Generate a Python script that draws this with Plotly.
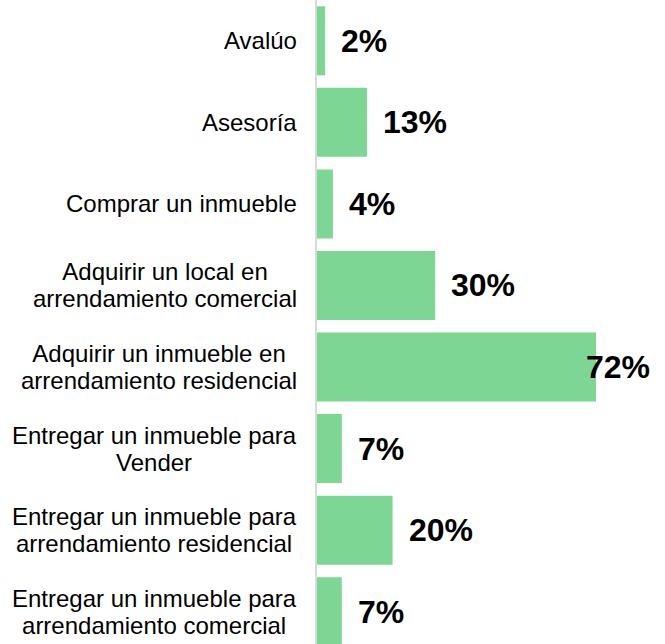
import plotly.graph_objects as go

categorias = [
    "Avalúo",
    "Asesoría",
    "Comprar un inmueble",
    "Adquirir un local en<br>arrendamiento comercial",
    "Adquirir un inmueble en<br>arrendamiento residencial",
    "Entregar un inmueble para<br>Vender",
    "Entregar un inmueble para<br>arrendamiento residencial",
    "Entregar un inmueble para<br>arrendamiento comercial",
]
porcentajes = [2.1, 12.9, 4.1, 30.5, 72.0, 6.4, 19.5, 6.4]
etiquetas = ["2%", "13%", "4%", "30%", "72%", "7%", "20%", "7%"]

verde = "#7dd694"
fuente = "Arial, Liberation Sans, sans-serif"
xmax = 89.8


def grande(txt):
    # bigger glyphs, but keep the line spacing of the base size
    return "<br>".join(f"<span style='font-size:24px'>{l}</span>" for l in txt.split("<br>"))


fig = go.Figure(go.Bar(
    x=porcentajes,
    y=categorias,
    orientation="h",
    marker=dict(color=verde, line=dict(width=0)),
    hoverinfo="skip",
))

# category labels, centred lines, right edge a bit left of the axis
for cat in categorias:
    fig.add_annotation(
        x=0, xref="paper", y=cat, yref="y",
        text=grande(cat), showarrow=False,
        xanchor="right", xshift=-18, align="center",
        font=dict(family=fuente, size=21, color="black"),
    )

# value labels outside the bar end; pushed back inside the chart if they don't fit
for cat, v, t in zip(categorias, porcentajes, etiquetas):
    if v / xmax > 0.75:
        fig.add_annotation(x=1, xref="paper", y=cat, yref="y", text=t,
                           showarrow=False, xanchor="right", xshift=-13,
                           font=dict(family=fuente, size=32, color="black", weight="bold"))
    else:
        fig.add_annotation(x=v, xref="x", y=cat, yref="y", text=t,
                           showarrow=False, xanchor="left", xshift=14,
                           font=dict(family=fuente, size=32, color="black", weight="bold"))

fig.update_layout(
    width=665, height=644,
    margin=dict(l=317, r=0, t=0, b=0),
    paper_bgcolor="white", plot_bgcolor="white",
    bargap=0.154,
    showlegend=False,
    xaxis=dict(range=[0, xmax], visible=False, showgrid=False, zeroline=False),
    yaxis=dict(
        categoryorder="array", categoryarray=categorias,
        range=[7.396, -0.5],
        showticklabels=False, ticks="", showgrid=False, zeroline=False,
        showline=True, linecolor="#d9d9d9", linewidth=2,
    ),
)

fig.write_html("out.html", config={"displayModeBar": False},
               post_script="document.body.style.margin='0';")
